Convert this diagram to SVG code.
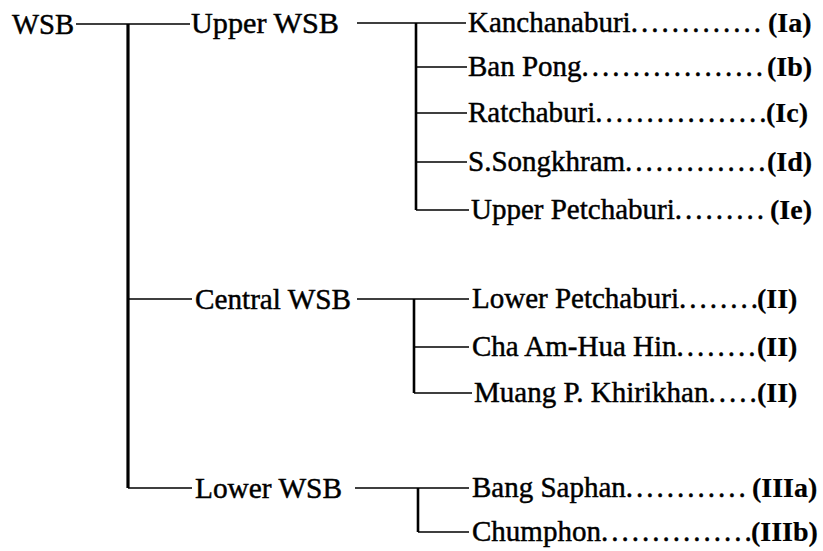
<svg xmlns="http://www.w3.org/2000/svg" width="823" height="551" viewBox="0 0 823 551">
<style>
text{font-family:"Liberation Serif","Times New Roman",serif;fill:#000;stroke:#000;stroke-width:0.45}
.l{font-size:30px}
.r{font-size:29px}
.d{letter-spacing:3px}
.c{font-weight:bold;stroke-width:0.2;font-size:28px}
.ln{fill:none;stroke:#000;stroke-width:1.6}
.v{fill:none;stroke:#000;stroke-width:2.6}
.t{fill:none;stroke:#000;stroke-width:3.2}
</style>
<rect width="823" height="551" fill="#fff"/>
<g id="connectors">
<path class="ln" d="M76 24H190M128 299H192M128 488H192"/>
<path class="t" d="M128 24V488"/>
<path class="ln" d="M357 23H466M416 67H467M416 113H467M416 162H467M416 210H469"/>
<path class="v" d="M416 23V210"/>
<path class="ln" d="M357 299H469M414 347H469M414 393H472"/>
<path class="v" d="M414 299V393"/>
<path class="ln" d="M355 488H469M418 532H469"/>
<path class="v" d="M418 488V532"/>
</g>
<g id="wsb"><text class="l" x="12" y="34" textLength="62" lengthAdjust="spacingAndGlyphs">WSB</text></g>
<g id="upper-wsb"><text class="l" x="191" y="33" textLength="148" lengthAdjust="spacingAndGlyphs">Upper WSB</text></g>
<g id="central-wsb"><text class="l" x="195" y="309" textLength="156" lengthAdjust="spacingAndGlyphs">Central WSB</text></g>
<g id="lower-wsb"><text class="l" x="195" y="498" textLength="147" lengthAdjust="spacingAndGlyphs">Lower WSB</text></g>
<g id="kanchanaburi"><text class="r" x="468" y="32">Kanchanaburi<tspan class="d">.............</tspan><tspan class="c" x="768">(Ia)</tspan></text></g>
<g id="ban-pong"><text class="r" x="468" y="76">Ban Pong<tspan class="d">..................</tspan><tspan class="c" x="767">(Ib)</tspan></text></g>
<g id="ratchaburi"><text class="r" x="468" y="122">Ratchaburi<tspan class="d">.................</tspan><tspan class="c" x="766">(Ic)</tspan></text></g>
<g id="s-songkhram"><text class="r" x="468" y="171">S.Songkhram<tspan class="d">..............</tspan><tspan class="c" x="767">(Id)</tspan></text></g>
<g id="upper-petchaburi"><text class="r" x="471" y="219">Upper Petchaburi<tspan class="d">.........</tspan><tspan class="c" x="770">(Ie)</tspan></text></g>
<g id="lower-petchaburi"><text class="r" x="472" y="308">Lower Petchaburi<tspan class="d">........</tspan><tspan class="c" x="757">(II)</tspan></text></g>
<g id="cha-am-hua-hin"><text class="r" x="472" y="356">Cha Am-Hua Hin<tspan class="d">........</tspan><tspan class="c" x="757">(II)</tspan></text></g>
<g id="muang-p-khirikhan"><text class="r" x="474" y="402">Muang P. Khirikhan<tspan class="d">.....</tspan><tspan class="c" x="757">(II)</tspan></text></g>
<g id="bang-saphan"><text class="r" x="472" y="497">Bang Saphan<tspan class="d">............</tspan><tspan class="c" x="752">(IIIa)</tspan></text></g>
<g id="chumphon"><text class="r" x="472" y="541">Chumphon<tspan class="d">...............</tspan><tspan class="c" x="751">(IIIb)</tspan></text></g>
</svg>
